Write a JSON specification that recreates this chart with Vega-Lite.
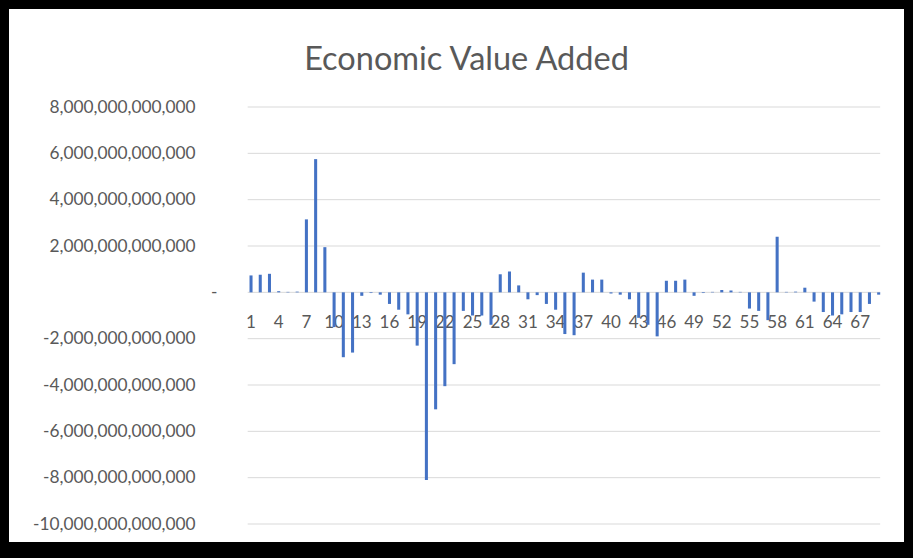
{
  "$schema": "https://vega.github.io/schema/vega-lite/v6.json",
  "width": 913,
  "height": 551,
  "autosize": {"type": "none"},
  "padding": {"left": 0, "top": 0, "right": 0, "bottom": 7},
  "background": "white",
  "config": {
    "view": {"stroke": "black", "strokeWidth": 18, "fill": "white"},
    "font": "Lato"
  },
  "title": {
    "text": "Economic Value Added",
    "fontSize": 32.5,
    "font": "Lato",
    "fontWeight": "normal",
    "color": "#595959",
    "offset": -76,
    "dx": 10,
    "anchor": "middle",
    "frame": "group"
  },
  "datasets": {
    "grid": [
      {"v": -10000000000000, "a": 1, "b": 69},
      {"v": -8000000000000, "a": 1, "b": 69},
      {"v": -6000000000000, "a": 1, "b": 69},
      {"v": -4000000000000, "a": 1, "b": 69},
      {"v": -2000000000000, "a": 1, "b": 69},
      {"v": 0, "a": 1, "b": 69},
      {"v": 2000000000000, "a": 1, "b": 69},
      {"v": 4000000000000, "a": 1, "b": 69},
      {"v": 6000000000000, "a": 1, "b": 69},
      {"v": 8000000000000, "a": 1, "b": 69}
    ],
    "bars": [
      {"cat": 1, "value": 730000000000},
      {"cat": 2, "value": 760000000000},
      {"cat": 3, "value": 800000000000},
      {"cat": 4, "value": 50000000000},
      {"cat": 5, "value": 20000000000},
      {"cat": 6, "value": 30000000000},
      {"cat": 7, "value": 3150000000000},
      {"cat": 8, "value": 5750000000000},
      {"cat": 9, "value": 1950000000000},
      {"cat": 10, "value": -1500000000000},
      {"cat": 11, "value": -2800000000000},
      {"cat": 12, "value": -2600000000000},
      {"cat": 13, "value": -150000000000},
      {"cat": 14, "value": -30000000000},
      {"cat": 15, "value": -100000000000},
      {"cat": 16, "value": -500000000000},
      {"cat": 17, "value": -750000000000},
      {"cat": 18, "value": -950000000000},
      {"cat": 19, "value": -2300000000000},
      {"cat": 20, "value": -8100000000000},
      {"cat": 21, "value": -5050000000000},
      {"cat": 22, "value": -4050000000000},
      {"cat": 23, "value": -3100000000000},
      {"cat": 24, "value": -800000000000},
      {"cat": 25, "value": -1000000000000},
      {"cat": 26, "value": -1000000000000},
      {"cat": 27, "value": -1400000000000},
      {"cat": 28, "value": 780000000000},
      {"cat": 29, "value": 900000000000},
      {"cat": 30, "value": 300000000000},
      {"cat": 31, "value": -300000000000},
      {"cat": 32, "value": -120000000000},
      {"cat": 33, "value": -500000000000},
      {"cat": 34, "value": -750000000000},
      {"cat": 35, "value": -1800000000000},
      {"cat": 36, "value": -1850000000000},
      {"cat": 37, "value": 850000000000},
      {"cat": 38, "value": 550000000000},
      {"cat": 39, "value": 550000000000},
      {"cat": 40, "value": -50000000000},
      {"cat": 41, "value": -100000000000},
      {"cat": 42, "value": -300000000000},
      {"cat": 43, "value": -1100000000000},
      {"cat": 44, "value": -1400000000000},
      {"cat": 45, "value": -1900000000000},
      {"cat": 46, "value": 500000000000},
      {"cat": 47, "value": 500000000000},
      {"cat": 48, "value": 550000000000},
      {"cat": 49, "value": -150000000000},
      {"cat": 50, "value": -30000000000},
      {"cat": 51, "value": 20000000000},
      {"cat": 52, "value": 100000000000},
      {"cat": 53, "value": 80000000000},
      {"cat": 54, "value": 20000000000},
      {"cat": 55, "value": -700000000000},
      {"cat": 56, "value": -800000000000},
      {"cat": 57, "value": -1200000000000},
      {"cat": 58, "value": 2400000000000},
      {"cat": 59, "value": 20000000000},
      {"cat": 60, "value": 30000000000},
      {"cat": 61, "value": 200000000000},
      {"cat": 62, "value": -400000000000},
      {"cat": 63, "value": -850000000000},
      {"cat": 64, "value": -1000000000000},
      {"cat": 65, "value": -950000000000},
      {"cat": 66, "value": -850000000000},
      {"cat": 67, "value": -850000000000},
      {"cat": 68, "value": -500000000000},
      {"cat": 69, "value": -100000000000}
    ]
  },
  "layer": [
    {
      "data": {"name": "grid"},
      "mark": {"type": "rule", "color": "#d9d9d9", "strokeWidth": 1},
      "encoding": {
        "x": {"field": "a", "type": "ordinal", "bandPosition": -0.6},
        "x2": {"field": "b", "bandPosition": 1},
        "y": {"field": "v", "type": "quantitative"}
      }
    },
    {
      "data": {"name": "bars"},
      "mark": {"type": "bar", "color": "#4472C4"},
      "encoding": {
        "x": {
          "field": "cat",
          "type": "ordinal",
          "scale": {"type": "band", "paddingInner": 0.67, "paddingOuter": 0, "range": [249.5, 880.2]},
          "axis": {
            "orient": "bottom",
            "offset": -258,
            "bandPosition": 0.5,
            "values": [1, 4, 7, 10, 13, 16, 19, 22, 25, 28, 31, 34, 37, 40, 43, 46, 49, 52, 55, 58, 61, 64, 67],
            "domain": false,
            "ticks": false,
            "grid": false,
            "labelAngle": 0,
            "labelAlign": "center",
            "labelOffset": 0,
            "labelPadding": 21,
            "labelBaseline": "top",
            "labelFontSize": 17,
            "labelFont": "Lato",
            "labelColor": "#595959",
            "labelOverlap": false,
            "labelFlush": false,
            "title": null
          }
        },
        "y": {
          "field": "value",
          "type": "quantitative",
          "scale": {"domain": [-11165000000000, 12619000000000], "nice": false, "zero": false},
          "axis": {
            "orient": "left",
            "offset": -243,
            "values": [-10000000000000, -8000000000000, -6000000000000, -4000000000000, -2000000000000, 0, 2000000000000, 4000000000000, 6000000000000, 8000000000000],
            "domain": false,
            "ticks": false,
            "grid": false,
            "labelPadding": {"condition": {"test": "datum.value == 0", "value": 26}, "value": 48},
            "labelFontSize": 17.3,
            "labelFont": "Lato",
            "labelColor": "#595959",
            "labelExpr": "datum.value == 0 ? '-' : replace(format(datum.value, ',.0f'), '\u2212', '-')",
            "labelOverlap": false,
            "title": null
          }
        }
      }
    }
  ]
}
